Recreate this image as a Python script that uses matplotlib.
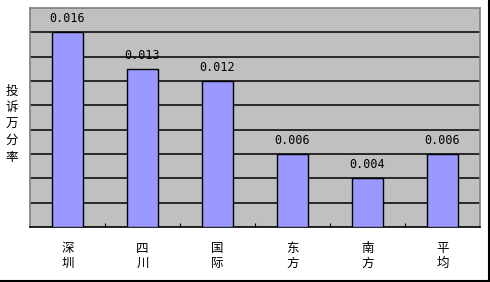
import numpy as np
import matplotlib
matplotlib.use('Agg')
from matplotlib import pyplot as plt
from matplotlib.lines import Line2D

plt.rcParams['font.family'] = ['Noto Sans CJK SC', 'DejaVu Sans']

# dati
categorie = ['深\n圳', '四\n川', '国\n际', '东\n方', '南\n方', '平\n均']
valori = [0.016, 0.013, 0.012, 0.006, 0.004, 0.006]
etichette = ['0.016', '0.013', '0.012', '0.006', '0.004', '0.006']

fig = plt.figure(figsize=(4.9, 2.82), dpi=100)
ax = fig.add_axes([30/490, 55/282, 450/490, 219/282])
ax.set_facecolor('#C0C0C0')

x = np.arange(len(valori))
ax.bar(x, valori, width=0.41, color='#9999FF', edgecolor='black', linewidth=1.0, zorder=3)

ax.set_xlim(-0.5, len(valori) - 0.5)
ax.set_ylim(0, 0.018)
ax.set_yticks(np.arange(0.002, 0.0161, 0.002))
ax.yaxis.grid(True, color='black', linewidth=1.1, zorder=1)
ax.set_axisbelow(True)
ax.tick_params(axis='y', length=0, labelleft=False)

# tacche tra le categorie
ax.set_xticks(np.arange(0.5, len(valori) - 0.5, 1.0))
ax.tick_params(axis='x', direction='in', length=3, width=0.8, labelbottom=False)

for i, (v, t) in enumerate(zip(valori, etichette)):
    ax.text(i, v + 0.0006, t, ha='center', va='bottom', fontsize=8.5,
            family='DejaVu Sans Mono', zorder=4)
    ax.text(i, -0.0012, categorie[i], ha='center', va='top', fontsize=9,
            linespacing=1.25, transform=ax.transData)

for s in ['top', 'right', 'left']:
    ax.spines[s].set_color('#808080')
    ax.spines[s].set_linewidth(1.2)
ax.spines['bottom'].set_color('black')
ax.spines['bottom'].set_linewidth(1.2)

fig.text(12/490, 1 - 124/282, '投\n诉\n万\n分\n率', ha='center', va='center',
         fontsize=9, linespacing=1.35)

# cornice esterna (solo destra e basso)
fig.add_artist(Line2D([488.5/490, 488.5/490], [1.5/282, 1], color='black', lw=1.5,
                      transform=fig.transFigure))
fig.add_artist(Line2D([0, 489/490], [1.5/282, 1.5/282], color='black', lw=1.5,
                      transform=fig.transFigure))

fig.savefig('out.png', dpi=100)
